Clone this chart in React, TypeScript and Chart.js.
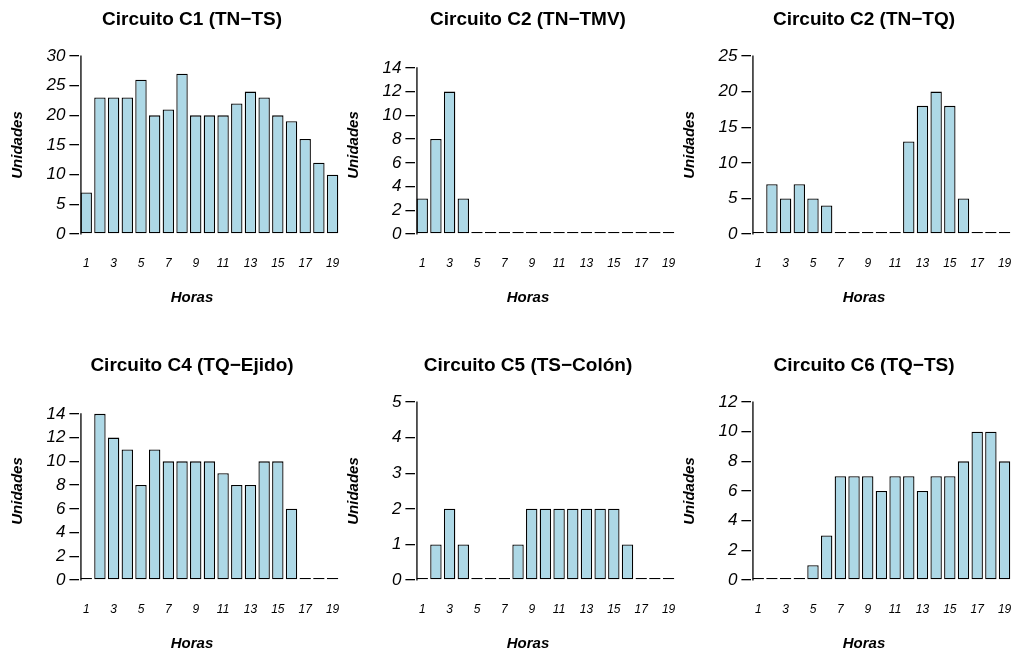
import React, { useEffect, useRef } from 'react';
import { Chart, registerables } from 'chart.js';

Chart.register(...registerables);

const FONT = '"Liberation Sans", Arial, Helvetica, sans-serif';

// ---- data ----
const hours = ['1', '2', '3', '4', '5', '6', '7', '8', '9', '10', '11', '12', '13', '14', '15', '16', '17', '18', '19'];

const titles = [
  'Circuito C1 (TN\u2212TS)',
  'Circuito C2 (TN\u2212TMV)',
  'Circuito C2 (TN\u2212TQ)',
  'Circuito C4 (TQ\u2212Ejido)',
  'Circuito C5 (TS\u2212Col\u00f3n)',
  'Circuito C6 (TQ\u2212TS)',
];

const c1Values = [7, 23, 23, 23, 26, 20, 21, 27, 20, 20, 20, 22, 24, 23, 20, 19, 16, 12, 10];
const c2TmvValues = [3, 8, 12, 3, 0, 0, 0, 0, 0, 0, 0, 0, 0, 0, 0, 0, 0, 0, 0];
const c2TqValues = [0, 7, 5, 7, 5, 4, 0, 0, 0, 0, 0, 13, 18, 20, 18, 5, 0, 0, 0];
const c4Values = [0, 14, 12, 11, 8, 11, 10, 10, 10, 10, 9, 8, 8, 10, 10, 6, 0, 0, 0];
const c5Values = [0, 1, 2, 1, 0, 0, 0, 1, 2, 2, 2, 2, 2, 2, 2, 1, 0, 0, 0];
const c6Values = [0, 0, 0, 0, 1, 3, 7, 7, 7, 6, 7, 7, 6, 7, 7, 8, 10, 10, 8];

const yMaxes = [30, 15, 25, 15, 5, 12];

const c1Ticks = [0, 5, 10, 15, 20, 25, 30];
const c2TmvTicks = [0, 2, 4, 6, 8, 10, 12, 14];
const c2TqTicks = [0, 5, 10, 15, 20, 25];
const c4Ticks = [0, 2, 4, 6, 8, 10, 12, 14];
const c5Ticks = [0, 1, 2, 3, 4, 5];
const c6Ticks = [0, 2, 4, 6, 8, 10, 12];

const xTitle = 'Horas';
const yTitle = 'Unidades';

const panels = [
  { title: titles[0], values: c1Values, ticks: c1Ticks, max: yMaxes[0] },
  { title: titles[1], values: c2TmvValues, ticks: c2TmvTicks, max: yMaxes[1] },
  { title: titles[2], values: c2TqValues, ticks: c2TqTicks, max: yMaxes[2] },
  { title: titles[3], values: c4Values, ticks: c4Ticks, max: yMaxes[3] },
  { title: titles[4], values: c5Values, ticks: c5Ticks, max: yMaxes[4] },
  { title: titles[5], values: c6Values, ticks: c6Ticks, max: yMaxes[5] },
];

// ---- layout (pixels) ----
const CANVAS_W = 344;
const CANVAS_H = 309;
const COL_STEP = 336;
const ROW_STEP = 346;
const AREA_LEFT = 79.4;
const AREA_RIGHT_PAD = 4.6;
const AREA_TOP = 56;
const AREA_BOTTOM = 234;
const LINE_W = 1.3;

const rTextPlugin = {
  id: 'rText',
  afterDraw(chart: any, _args: any, opts: any) {
    const ctx = chart.ctx;
    const y = chart.scales.y;
    const meta = chart.getDatasetMeta(0);
    const first: any = meta.data[0];
    const axisX = first.x - first.width / 2 + 0.4;
    const t: number[] = opts.ticks;
    ctx.save();
    ctx.strokeStyle = '#000';
    ctx.lineWidth = LINE_W;
    ctx.beginPath();
    ctx.moveTo(axisX, y.getPixelForValue(t[0]) + 0.6);
    ctx.lineTo(axisX, y.getPixelForValue(t[t.length - 1]) - 0.6);
    ctx.stroke();

    ctx.fillStyle = '#000';
    ctx.textAlign = 'center';
    ctx.textBaseline = 'middle';
    ctx.font = `bold 19px ${FONT}`;
    ctx.fillText(opts.title, opts.cx, opts.titleY);
    ctx.font = `italic bold 15px ${FONT}`;
    ctx.fillText(xTitle, opts.cx, opts.xTitleY);
    ctx.translate(opts.yTitleX, (y.top + y.bottom) / 2);
    ctx.rotate(-Math.PI / 2);
    ctx.fillText(yTitle, 0, 0);
    ctx.restore();
  },
};

function Panel({ idx }: { idx: number }) {
  const ref = useRef<HTMLCanvasElement | null>(null);
  const p = panels[idx];
  const col = idx % 3;
  const row = Math.floor(idx / 3);

  useEffect(() => {
    if (!ref.current) return;
    const chart = new Chart(ref.current, {
      type: 'bar',
      data: {
        labels: hours,
        datasets: [
          {
            data: p.values,
            backgroundColor: '#ADD8E6',
            borderColor: '#000',
            borderWidth: LINE_W,
            borderSkipped: false,
            inflateAmount: 0,
            minBarLength: 2,
            categoryPercentage: 1,
            barPercentage: 1 / 1.2,
            clip: false as any,
          } as any,
        ],
      },
      options: {
        responsive: false,
        maintainAspectRatio: false,
        animation: false,
        events: [],
        layout: { padding: { top: AREA_TOP, right: AREA_RIGHT_PAD, left: 0, bottom: 0 } },
        plugins: {
          legend: { display: false },
          tooltip: { enabled: false },
          title: { display: false },
          rText: {
            title: p.title,
            ticks: p.ticks,
            cx: 192,
            titleY: 20,
            xTitleY: 297.5,
            yTitleX: 17.8,
          },
        } as any,
        scales: {
          x: {
            type: 'category',
            offset: true,
            grid: {
              display: true,
              drawOnChartArea: false,
              drawTicks: true,
              tickLength: 22.1,
              color: 'rgba(0,0,0,0)',
            },
            border: { display: false },
            ticks: {
              autoSkip: false,
              maxRotation: 0,
              minRotation: 0,
              padding: 0,
              color: '#000',
              font: { family: FONT, size: 12, style: 'italic' },
              callback: (_v: any, i: number) => (i % 2 === 0 ? hours[i] : ''),
            },
            afterFit: (s: any) => {
              s.height = CANVAS_H - AREA_BOTTOM;
            },
          },
          y: {
            type: 'linear',
            min: 0,
            max: p.max,
            grid: {
              display: true,
              drawOnChartArea: false,
              drawTicks: true,
              tickLength: 10,
              color: '#000',
              lineWidth: LINE_W,
            },
            border: { display: false },
            ticks: {
              padding: 4,
              color: '#000',
              font: { family: FONT, size: 17, style: 'italic' },
            },
            afterBuildTicks: (s: any) => {
              s.ticks = p.ticks.map((v) => ({ value: v }));
            },
            afterFit: (s: any) => {
              s.width = AREA_LEFT;
            },
          },
        },
      },
      plugins: [rTextPlugin],
    });
    return () => chart.destroy();
  }, [idx]);

  return (
    <canvas
      ref={ref}
      width={CANVAS_W}
      height={CANVAS_H}
      style={{
        position: 'absolute',
        left: col * COL_STEP,
        top: row * ROW_STEP,
        width: CANVAS_W,
        height: CANVAS_H,
      }}
    />
  );
}

export default function App() {
  return (
    <div
      style={{
        position: 'absolute',
        left: 0,
        top: 0,
        width: 1014,
        height: 655,
        overflow: 'hidden',
        background: '#fff',
      }}
    >
      {panels.map((_, i) => (
        <Panel key={i} idx={i} />
      ))}
    </div>
  );
}
